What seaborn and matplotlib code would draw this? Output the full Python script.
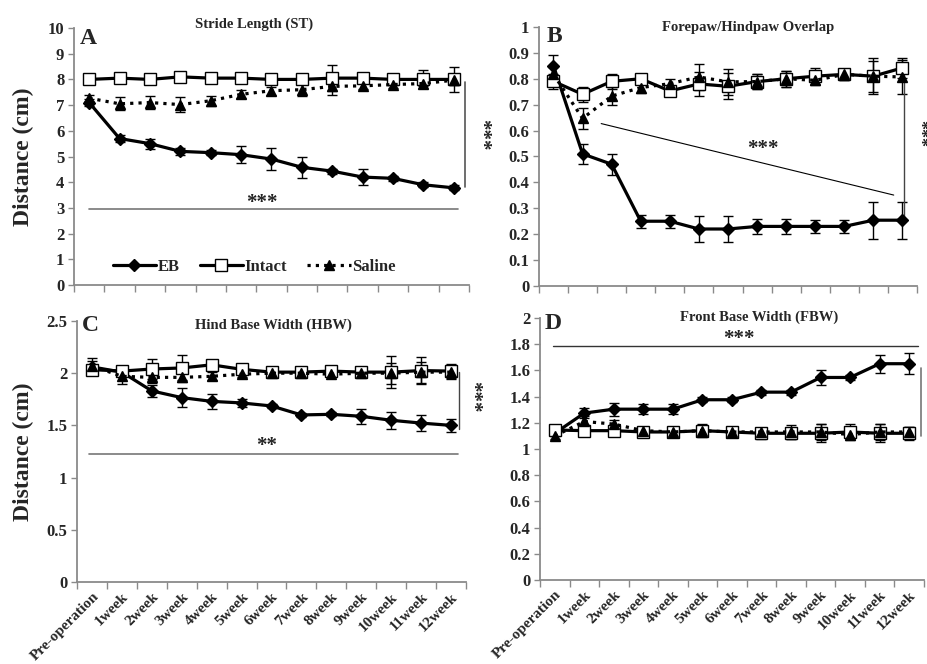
import numpy as np
import pandas as pd
import seaborn as sns
import matplotlib.pyplot as plt
from matplotlib.ticker import FixedLocator

# -----------------------------
# Data
# -----------------------------
semanas = ['Pre-operation', '1week', '2week', '3week', '4week', '5week', '6week',
           '7week', '8week', '9week', '10week', '11week', '12week']
grupos = ['EB', 'Intact', 'Saline']

# A - Stride Length (ST)
st_eb = [7.1, 5.7, 5.5, 5.2, 5.15, 5.07, 4.9, 4.58, 4.43, 4.2, 4.15, 3.9, 3.78]
st_eb_err = [0.15, 0.15, 0.2, 0.15, 0.1, 0.33, 0.42, 0.42, 0.1, 0.3, 0.1, 0.1, 0.1]
st_intact = [8.0, 8.05, 8.0, 8.1, 8.05, 8.05, 8.0, 8.0, 8.05, 8.05, 8.0, 8.0, 8.0]
st_intact_err = [0.05, 0.05, 0.05, 0.05, 0.05, 0.05, 0.05, 0.05, 0.52, 0.1, 0.2, 0.35, 0.5]
st_saline = [7.27, 7.05, 7.1, 7.02, 7.17, 7.42, 7.56, 7.6, 7.73, 7.75, 7.8, 7.84, 7.97]
st_saline_err = [0.12, 0.25, 0.25, 0.28, 0.2, 0.15, 0.15, 0.25, 0.35, 0.12, 0.12, 0.1, 0.2]

# B - Forepaw/Hindpaw Overlap
ov_eb = [0.85, 0.51, 0.47, 0.25, 0.25, 0.22, 0.22, 0.23, 0.23, 0.23, 0.23, 0.254, 0.254]
ov_eb_err = [0.04, 0.04, 0.04, 0.025, 0.025, 0.05, 0.05, 0.03, 0.03, 0.025, 0.025, 0.072, 0.072]
ov_intact = [0.79, 0.74, 0.79, 0.80, 0.753, 0.78, 0.771, 0.789, 0.80, 0.81, 0.817, 0.81, 0.842]
ov_intact_err = [0.03, 0.03, 0.03, 0.02, 0.02, 0.045, 0.05, 0.03, 0.03, 0.03, 0.02, 0.07, 0.04]
ov_saline = [0.817, 0.647, 0.733, 0.766, 0.781, 0.807, 0.788, 0.789, 0.80, 0.794, 0.817, 0.81, 0.807]
ov_saline_err = [0.03, 0.04, 0.035, 0.02, 0.02, 0.05, 0.05, 0.03, 0.03, 0.02, 0.02, 0.06, 0.067]

# C - Hind Base Width (HBW)
hbw_eb = [2.06, 2.01, 1.83, 1.766, 1.73, 1.715, 1.686, 1.6, 1.606, 1.587, 1.549, 1.522, 1.5]
hbw_eb_err = [0.06, 0.03, 0.06, 0.09, 0.07, 0.04, 0.02, 0.02, 0.02, 0.07, 0.08, 0.08, 0.06]
hbw_intact = [2.034, 2.02, 2.04, 2.05, 2.08, 2.037, 2.01, 2.01, 2.02, 2.01, 2.01, 2.025, 2.02]
hbw_intact_err = [0.04, 0.03, 0.1, 0.12, 0.03, 0.03, 0.03, 0.03, 0.03, 0.04, 0.15, 0.13, 0.07]
hbw_saline = [2.069, 1.97, 1.96, 1.96, 1.97, 1.99, 2.0, 2.0, 1.99, 2.0, 2.0, 2.01, 2.01]
hbw_saline_err = [0.08, 0.07, 0.05, 0.04, 0.04, 0.03, 0.03, 0.03, 0.03, 0.04, 0.1, 0.1, 0.07]

# D - Front Base Width (FBW)
fbw_eb = [1.12, 1.274, 1.304, 1.304, 1.304, 1.376, 1.376, 1.434, 1.434, 1.546, 1.546, 1.651, 1.651]
fbw_eb_err = [0.02, 0.04, 0.05, 0.04, 0.04, 0.02, 0.02, 0.02, 0.02, 0.06, 0.02, 0.07, 0.08]
fbw_intact = [1.145, 1.14, 1.14, 1.13, 1.13, 1.14, 1.13, 1.12, 1.12, 1.12, 1.13, 1.12, 1.12]
fbw_intact_err = [0.04, 0.04, 0.04, 0.02, 0.02, 0.04, 0.04, 0.04, 0.04, 0.07, 0.06, 0.07, 0.05]
fbw_saline = [1.10, 1.21, 1.19, 1.14, 1.13, 1.14, 1.13, 1.13, 1.13, 1.13, 1.11, 1.13, 1.13]
fbw_saline_err = [0.02, 0.04, 0.03, 0.02, 0.02, 0.05, 0.03, 0.03, 0.05, 0.06, 0.03, 0.06, 0.04]

paneles = [
    ('A', 'Stride Length (ST)', [st_eb, st_intact, st_saline],
     [st_eb_err, st_intact_err, st_saline_err], (0, 10), 1),
    ('B', 'Forepaw/Hindpaw Overlap', [ov_eb, ov_intact, ov_saline],
     [ov_eb_err, ov_intact_err, ov_saline_err], (0, 1), 0.1),
    ('C', 'Hind Base Width (HBW)', [hbw_eb, hbw_intact, hbw_saline],
     [hbw_eb_err, hbw_intact_err, hbw_saline_err], (0, 2.5), 0.5),
    ('D', 'Front Base Width (FBW)', [fbw_eb, fbw_intact, fbw_saline],
     [fbw_eb_err, fbw_intact_err, fbw_saline_err], (0, 2), 0.2),
]

# -----------------------------
# Style
# -----------------------------
sns.set_style("ticks")
plt.rcParams['font.family'] = ['Liberation Serif', 'DejaVu Serif']
plt.rcParams['font.weight'] = 'bold'

estilos = {
    'EB': dict(marker='D', markersize=6, markerfacecolor='black', linestyle='-'),
    'Intact': dict(marker='s', markersize=8.5, markerfacecolor='white', linestyle='-'),
    'Saline': dict(marker='^', markersize=7.5, markerfacecolor='black', linestyle=(0, (1, 1.6))),
}

gris = '#8a8a8a'
pos = np.arange(len(semanas)) + 0.5

fig = plt.figure(figsize=(9.27, 6.64), dpi=100)
rects = [
    [0.0798, 0.5708, 0.4261, 0.3870],
    [0.5814, 0.5693, 0.4078, 0.3901],
    [0.0831, 0.1235, 0.4196, 0.3931],
    [0.5825, 0.1265, 0.4142, 0.3946],
]
title_pos = [(0.456, 1.016), (0.553, 0.996), (0.504, 0.985), (0.57, 1.004)]
letter_pos = [(0.035, 0.958), (0.042, 0.962), (0.035, 0.982), (0.033, 0.978)]

axes = []
for i, (letra, titulo, series, errores, ylim, paso) in enumerate(paneles):
    ax = fig.add_axes(rects[i])
    axes.append(ax)

    df = pd.DataFrame({
        'pos': np.tile(pos, len(grupos)),
        'valor': np.concatenate(series),
        'grupo': np.repeat(grupos, len(semanas)),
    })
    for g, err in zip(grupos, errores):
        sub = df[df['grupo'] == g]
        ax.errorbar(sub['pos'], sub['valor'], yerr=err, fmt='none',
                    ecolor='black', elinewidth=1, capsize=3.5, capthick=1, zorder=2)
    for g in grupos:
        sub = df[df['grupo'] == g]
        sns.lineplot(data=sub, x='pos', y='valor', ax=ax, color='black',
                     linewidth=2.3, markeredgecolor='black', markeredgewidth=1,
                     label=g, zorder=3, **estilos[g])

    ax.set_xlim(0, 13)
    ax.set_ylim(*ylim)
    ax.set_yticks(np.round(np.arange(ylim[0], ylim[1] + paso / 2, paso), 2))
    ax.set_yticklabels([f'{v:g}' for v in ax.get_yticks()], fontsize=12, fontweight='bold')
    ax.set_xticks(pos)
    if i >= 2:
        ax.set_xticklabels(semanas, rotation=45, ha='right', rotation_mode='anchor',
                           fontsize=11, fontweight='bold')
    else:
        ax.set_xticklabels([])
    ax.xaxis.set_minor_locator(FixedLocator(np.arange(0, 14)))
    ax.tick_params(axis='x', which='major', length=0, pad=6)
    ax.tick_params(axis='x', which='minor', length=5, color=gris, width=1)
    ax.tick_params(axis='y', length=4, color=gris, width=1, pad=3)
    sns.despine(ax=ax)
    for s in ['left', 'bottom']:
        ax.spines[s].set_color(gris)
        ax.spines[s].set_linewidth(1.3)
    ax.set_xlabel('')
    ax.set_ylabel('Distance (cm)' if i % 2 == 0 else '', fontsize=17, fontweight='bold')
    if ax.get_legend() is not None:
        ax.get_legend().remove()

    ax.text(*title_pos[i], titulo, transform=ax.transAxes, ha='center', va='center',
            fontsize=10.5, fontweight='bold')
    ax.text(*letter_pos[i], letra, transform=ax.transAxes, ha='center', va='center',
            fontsize=17, fontweight='bold')

axA, axB, axC, axD = axes
axA.yaxis.set_label_coords(-0.10, 0.5)
axC.yaxis.set_label_coords(-0.11, 0.5)

# Leyenda en el panel A
h, l = axA.get_legend_handles_labels()
axA.legend(h, l, loc='center left', bbox_to_anchor=(0.06, 0.07), ncol=3, frameon=False,
           handlelength=2.6, handletextpad=0.1, columnspacing=1.2,
           prop={'weight': 'bold', 'size': 12})

# -----------------------------
# Significance marks
# -----------------------------
est = dict(ha='center', va='center', fontsize=15, color='#222222')
axA.plot([0.5, 12.65], [2.95, 2.95], color='#777777', lw=1.2, clip_on=False)
axA.text(6.17, 3.2, '***', **est)
axA.plot([12.88, 12.88], [3.83, 7.9], color='#555555', lw=1.2, clip_on=False)
axA.text(13.4, 5.84, '***', rotation=270, clip_on=False, **est)

axB.plot([2.14, 12.2], [0.627, 0.351], color='black', lw=0.8)
axB.text(7.7, 0.53, '***', **est)
axB.plot([12.56, 12.56], [0.257, 0.826], color='#444444', lw=1, clip_on=False)
axB.text(13.05, 0.587, '***', rotation=270, clip_on=False,
         **{**est, 'fontsize': 13})

axC.plot([0.4, 12.72], [1.223, 1.223], color='#777777', lw=1.2, clip_on=False)
axC.text(6.33, 1.30, '**', **est)
axC.plot([12.77, 12.77], [1.47, 2.01], color='#444444', lw=1, clip_on=False)
axC.text(13.2, 1.77, '***', rotation=270, clip_on=False, **est)

axD.plot([0.45, 12.8], [1.79, 1.79], color='#333333', lw=1, clip_on=False)
axD.text(6.72, 1.84, '***', **est)
axD.plot([12.9, 12.9], [1.10, 1.62], color='#777777', lw=1.2, clip_on=False)

fig.savefig('out.png', dpi=100)
